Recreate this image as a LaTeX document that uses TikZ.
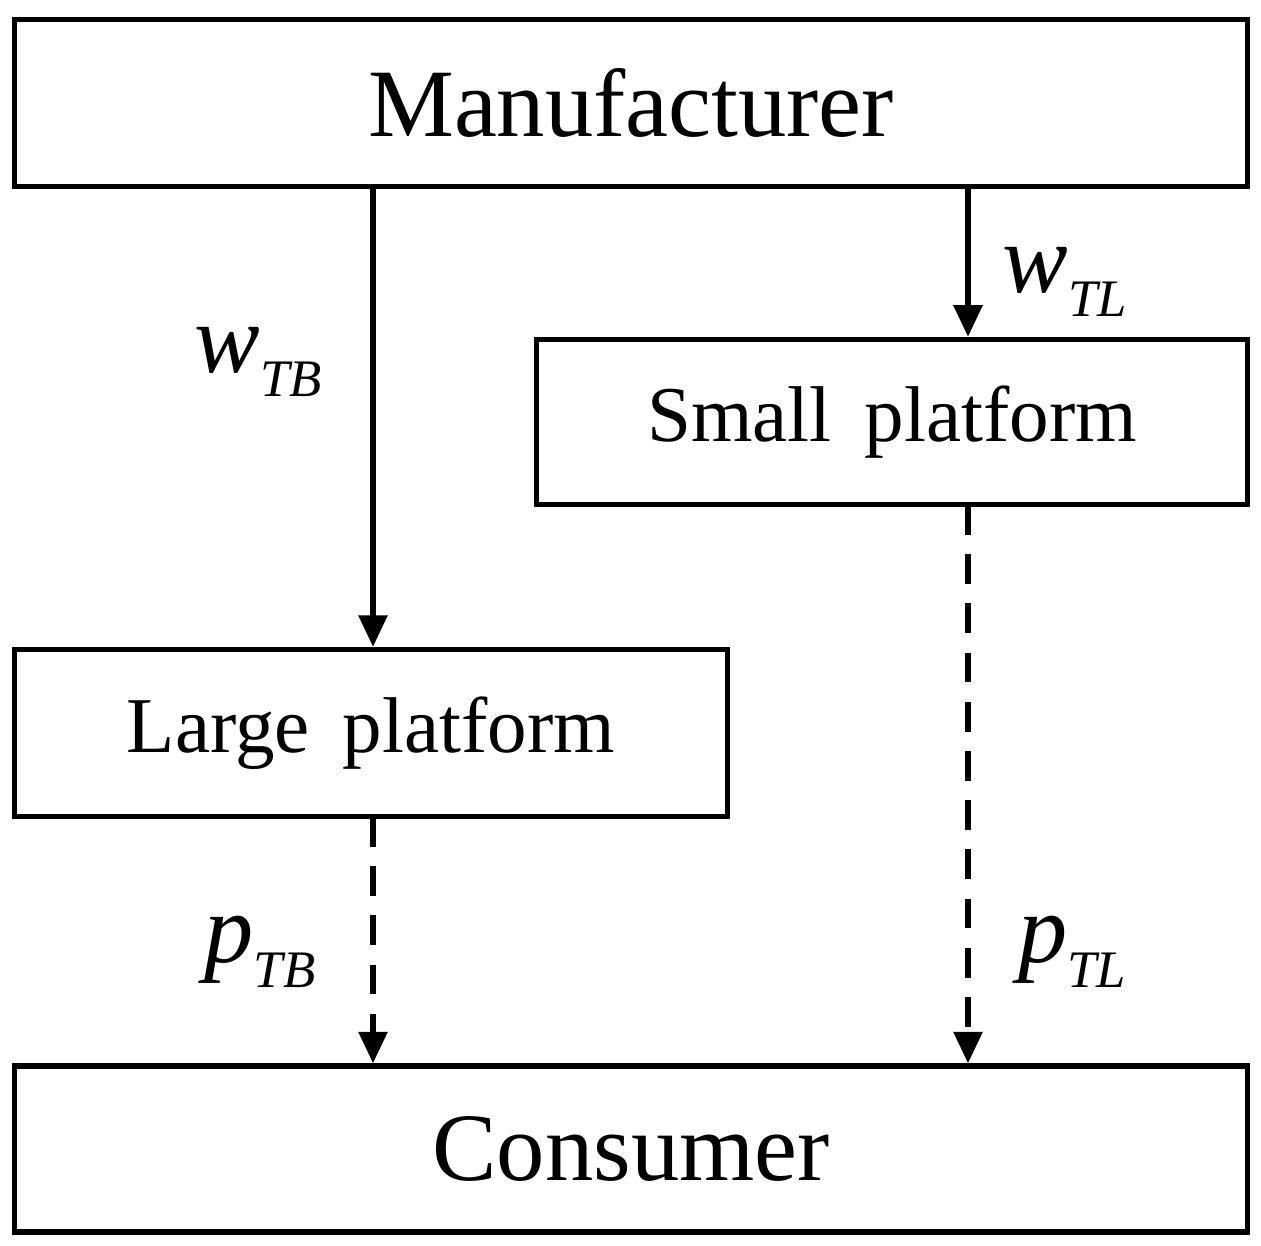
\documentclass[tikz,border=0pt]{standalone}
\usepackage{fontspec}
\setmainfont{Liberation Serif}
\usetikzlibrary{arrows.meta}
\newcommand{\sublab}[2]{\textit{#1}\raisebox{-0.25em}{\fontsize{30}{32}\selectfont\textit{#2}}}
\begin{document}
\begin{tikzpicture}
  [x=0.02cm,y=-0.02cm,
   box/.style={draw,line width=3pt,rectangle,inner sep=0pt},
   flow/.style={line width=3.2pt,-{Triangle[length=18pt,width=16pt]}},
   lab/.style={font=\fontsize{56}{60}\selectfont}]
\useasboundingbox (0,0) rectangle (1261,1245);
\node (man)[box,minimum width=1233*0.02cm,minimum height=167*0.02cm,font=\fontsize{55}{60}\selectfont] at (631,103) {Manufacturer};
\node (small)[box,minimum width=711*0.02cm,minimum height=165*0.02cm,font=\fontsize{45}{50}\selectfont] at (892,422) {Small\, platform};
\node (large)[box,minimum width=713*0.02cm,minimum height=167*0.02cm,font=\fontsize{45}{50}\selectfont] at (371,733) {Large\, platform};
\node (con)[box,minimum width=1233*0.02cm,minimum height=166*0.02cm,font=\fontsize{55}{60}\selectfont] at (631,1149) {Consumer};

\coordinate (a) at (373,187);
\coordinate (b) at (968,187);
\coordinate (c) at (373,817);
\coordinate (d) at (968,505);
\draw[flow] (a) -- (a |- large.north);
\draw[flow] (b) -- (b |- small.north);
\draw[flow,dash pattern=on 17pt off 11pt] (c) -- (c |- con.north);
\draw[flow,dash pattern=on 17pt off 11pt] (d) -- (d |- con.north);

\node (wtb)[lab] at (258,362) {\sublab{w}{TB}};
\node (wtl)[lab] at (1065,282) {\sublab{w}{TL}};
\node (ptb)[lab] at (260,952) {\sublab{p}{TB}};
\node (ptl)[lab] at (1072,952) {\sublab{p}{TL}};
\end{tikzpicture}
\end{document}
